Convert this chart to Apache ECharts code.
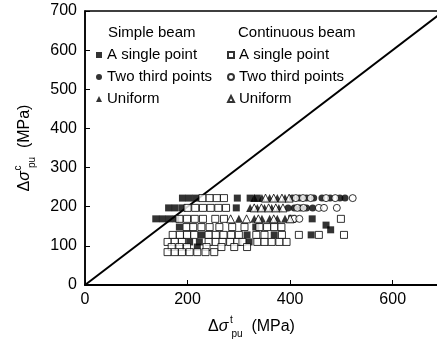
<!DOCTYPE html>
<html>
<head>
<meta charset="utf-8">
<script src="https://cdn.jsdelivr.net/npm/echarts@6/dist/echarts.min.js"></script>
<style>html,body{margin:0;padding:0;background:#fff}#c{width:437px;height:349px}</style>
</head>
<body>
<div id="c"></div>
<script>
var xTicks = [0, 200, 400, 600];
var yTicks = [0, 100, 200, 300, 400, 500, 600, 700];
var diagonal = [[0, 0], [700, 700]];

var simpleSingle = [
  [190,222],[203,222],[216,222],[297,222],[322,222],[336,222],
  [163,197],[176,197],[190,197],[295,197],
  [138,169],[151,169],[164,169],[177,169],[443,169],
  [184,148],[333,148],[470,153],[479,141],
  [227,128],[316,128],[369,128],[441,128],
  [204,110],[223,110],[320,110],
  [219,97]
];
var simpleTwoThird = [
  [404,222],[418,222],[432,222],[446,222],[462,222],[478,222],[497,222],[507,222],
  [396,197],[408,197],[420,197],[432,197],[444,197]
];
var simpleUniform = [
  [330,222],[345,222],[360,222],[375,222],[390,222],
  [322,197],[336,197],[350,197],[364,197],[378,197],
  [300,169],[330,169],[345,169],[360,169],[375,169],[390,169]
];
var contSingle = [
  [229,222],[243,222],[257,222],[271,222],
  [200,197],[215,197],[230,197],[245,197],[260,197],[275,197],
  [184,169],[199,169],[214,169],[230,169],[254,169],[271,169],[404,169],[499,169],
  [198,148],[211,148],[227,148],[243,148],[262,148],[287,148],[311,148],[340,148],[355,148],[369,148],[383,148],
  [171,128],[185,128],[199,128],[213,128],[241,128],[255,128],[270,128],[285,128],[300,128],[334,128],[350,128],[384,128],[417,128],[456,128],[505,128],
  [161,110],[175,110],[189,110],[241,110],[255,110],[268,110],[283,110],[297,110],[307,110],[336,110],[350,110],[364,110],[379,110],[393,110],
  [169,97],[184,97],[199,97],[237,97],[266,97],[291,97],[316,97],
  [161,84],[175,84],[189,84],[204,84],[219,84],[235,84],[252,84]
];
var contTwoThird = [
  [411,222],[425,222],[440,222],[470,222],[488,222],[522,222],
  [414,197],[426,197],[456,197],[466,197],[491,197],
  [408,169],[418,169]
];
var contUniform = [
  [352,222],[368,222],[384,222],[398,222],
  [330,197],[344,197],[358,197],[372,197],[386,197],
  [284,169],[315,169],[338,169],[368,169],[400,169]
];

var FONT = 'Liberation Sans, Arial, sans-serif';
var filled = {color: '#000'};
var open = {color: '#fff', borderColor: '#000', borderWidth: 1};
function sc(name, data, symbol, size, style) {
  return {type: 'scatter', name: name, data: data, symbol: symbol, symbolSize: size,
    itemStyle: style, z: 3, emphasis: {disabled: true}};
}
function nameRich() {
  return {
    d: {fontSize: 16, fontFamily: FONT, color: '#000', lineHeight: 24},
    s: {fontSize: 16, fontFamily: FONT, color: '#000', fontStyle: 'italic', lineHeight: 24},
    g: {fontSize: 16, lineHeight: 24, width: 3},
    c: {fontSize: 10, fontFamily: FONT, color: '#000', lineHeight: 11, verticalAlign: 'top', width: 0},
    p: {fontSize: 10, fontFamily: FONT, color: '#000', lineHeight: 11, verticalAlign: 'bottom'},
    m: {fontSize: 16, fontFamily: FONT, color: '#000', lineHeight: 24}
  };
}
var chart = echarts.init(document.getElementById('c'));
chart.setOption({
  animation: false,
  backgroundColor: '#fff',
  grid: {left: 85, right: -7, top: 11, bottom: 64, outerBoundsMode: 'none', containLabel: false,
    show: true, borderColor: '#000', borderWidth: 1.5, backgroundColor: 'transparent'},
  xAxis: {
    type: 'value', min: 0, max: 700, interval: 200,
    name: '{d|Δ}{s|σ}{g| }{c|t}{p|pu}{m|  (MPa)}',
    nameLocation: 'middle', nameGap: 30,
    nameTextStyle: {rich: nameRich(), padding: [0, 26, 0, 0]},
    axisLine: {show: true, lineStyle: {color: '#000', width: 2}},
    axisTick: {show: true, inside: true, length: 5, lineStyle: {color: '#000', width: 1}},
    axisLabel: {fontSize: 16, fontFamily: FONT, color: '#000', margin: 7,
      formatter: function (v) { return xTicks.indexOf(v) >= 0 ? String(v) : ''; }},
    splitLine: {show: false}
  },
  yAxis: {
    type: 'value', min: 0, max: 700, interval: 100,
    name: '{d|Δ}{s|σ}{g| }{c|c}{p|pu}{m|  (MPa)}',
    nameLocation: 'middle', nameGap: 48,
    nameTextStyle: {rich: nameRich()},
    axisLine: {show: true, lineStyle: {color: '#000', width: 1.5}},
    axisTick: {show: true, inside: true, length: 5, lineStyle: {color: '#000', width: 1}},
    axisLabel: {fontSize: 16, fontFamily: FONT, color: '#000', margin: 8,
      formatter: function (v) { return yTicks.indexOf(v) >= 0 ? String(v) : ''; }},
    splitLine: {show: false}
  },
  legend: [
    {orient: 'vertical', left: 91, top: 42, itemWidth: 6, itemHeight: 6, itemGap: 6,
     data: ['A single point', 'Two third points', 'Uniform'],
     textStyle: {fontSize: 15, fontFamily: FONT, color: '#000', lineHeight: 16}, selectedMode: false},
    {orient: 'vertical', left: 222, top: 42, itemWidth: 6, itemHeight: 6, itemGap: 6,
     data: ['A single point ', 'Two third points ', 'Uniform '],
     textStyle: {fontSize: 15, fontFamily: FONT, color: '#000', lineHeight: 16}, selectedMode: false}
  ],
  graphic: [
    {type: 'text', left: 108, top: 25, style: {text: 'Simple beam', font: '15px ' + FONT, fill: '#000'}},
    {type: 'text', left: 238, top: 25, style: {text: 'Continuous beam', font: '15px ' + FONT, fill: '#000'}}
  ],
  series: [
    {type: 'line', data: diagonal, symbol: 'none', lineStyle: {color: '#000', width: 2}, z: 2, silent: true},
    sc('A single point', simpleSingle, 'rect', 7, filled),
    sc('Two third points', simpleTwoThird, 'circle', 7, filled),
    sc('Uniform', simpleUniform, 'triangle', 8, filled),
    sc('A single point ', contSingle, 'rect', 7, open),
    sc('Two third points ', contTwoThird, 'circle', 7, open),
    sc('Uniform ', contUniform, 'triangle', 8, open)
  ]
});
</script>
</body>
</html>
